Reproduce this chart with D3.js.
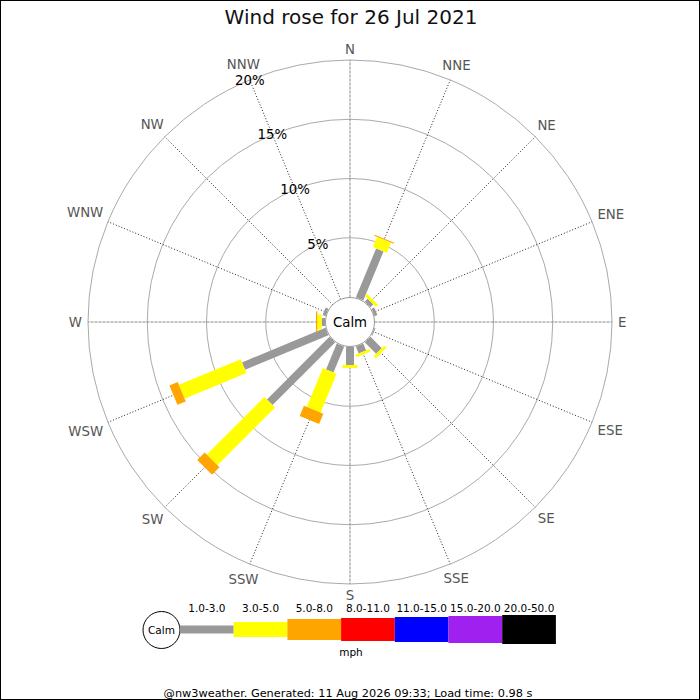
<!DOCTYPE html>
<html>
<head>
<meta charset="utf-8">
<script src="https://cdn.jsdelivr.net/npm/d3@7"></script>
<style>
  html, body { margin: 0; padding: 0; background: #fff; }
  svg { display: block; font-family: "DejaVu Sans", sans-serif; }
</style>
</head>
<body>
<svg id="chart" width="700" height="700"></svg>
<script>
// ---- data ----
const titleText = "Wind rose for 26 Jul 2021";
const footerText = "@nw3weather. Generated: 11 Aug 2026 09:33; Load time: 0.98 s";
const directions = ["N","NNE","NE","ENE","E","ESE","SE","SSE","S","SSW","SW","WSW","W","WNW","NW","NNW"];
const speedBins = ["1.0-3.0","3.0-5.0","5.0-8.0","8.0-11.0","11.0-15.0","15.0-20.0","20.0-50.0"];
const binColors = ["#999999","#ffff00","#ffa500","#ff0000","#0000ff","#a020f0","#000000"];
const unitLabel = "mph";
const calmLabel = "Calm";
const ringTicks = [5, 10, 15, 20];
// percentage of observations per direction, by speed bin
const pct1to3   = [0, 4.47, 0.34, 0.25, 0, 0.08, 1.35, 0.63, 1.52, 2.36, 7.47, 7.61, 0.28, 0.25, 0, 0];
const pct3to5   = [0, 0.93, 0.25, 0,    0, 0,    0.25, 0.21, 0.25, 3.55, 6.88, 5.65, 0.37, 0,    0, 0];
const pct5to8   = [0, 0.09, 0,    0,    0, 0,    0,    0,    0,    0.93, 0.89, 0.76, 0.11, 0,    0, 0];
const pct8to11  = [0, 0, 0, 0, 0, 0, 0, 0, 0, 0, 0, 0, 0, 0, 0, 0];
const pct11to15 = [0, 0, 0, 0, 0, 0, 0, 0, 0, 0, 0, 0, 0, 0, 0, 0];
const pct15to20 = [0, 0, 0, 0, 0, 0, 0, 0, 0, 0, 0, 0, 0, 0, 0, 0];
const pct20to50 = [0, 0, 0, 0, 0, 0, 0, 0, 0, 0, 0, 0, 0, 0, 0, 0];

// ---- build ----
const series = [pct1to3, pct3to5, pct5to8, pct8to11, pct11to15, pct15to20, pct20to50];
const table = directions.map((d, i) => {
  const row = { dir: d };
  speedBins.forEach((b, j) => row[b] = series[j][i]);
  return row;
});
const stacked = d3.stack().keys(speedBins)(table);

const svg = d3.select("#chart");
const W = 700, H = 700;
const cx = 350, cy = 322;
const calmR = 24.5;
const barWidths = [8, 15, 21, 23, 25, 27, 29];

svg.append("rect").attr("x", 0.5).attr("y", 0.5).attr("width", W - 1).attr("height", H - 1)
  .attr("fill", "#fff").attr("stroke", "#000").attr("stroke-width", 1);

svg.append("text").attr("x", 351).attr("y", 24).attr("text-anchor", "middle")
  .attr("font-size", 20).attr("fill", "#111").text(titleText);

const r = d3.scaleLinear().domain([0, 20]).range([25, 262]);
const angle = d3.scalePoint().domain(directions).range([0, 337.5]); // degrees clockwise from N

const g = svg.append("g").attr("transform", `translate(${cx},${cy})`);

// rings
g.selectAll("circle.ring").data(ringTicks).join("circle")
  .attr("class", "ring").attr("r", d => r(d))
  .attr("fill", "none").attr("stroke", "#aaa").attr("stroke-width", 1);

// spokes
directions.forEach((d, i) => {
  const a = angle(d) * Math.PI / 180;
  const cardinal = i % 4 === 0;
  g.append("line")
    .attr("x1", Math.sin(a) * calmR).attr("y1", -Math.cos(a) * calmR)
    .attr("x2", Math.sin(a) * r(20)).attr("y2", -Math.cos(a) * r(20))
    .attr("stroke", cardinal ? "#888" : "#222")
    .attr("stroke-width", 1)
    .attr("stroke-dasharray", cardinal ? "3,1" : "1,2");
});

// bars
stacked.forEach((layer, j) => {
  g.append("g").selectAll("rect").data(layer.filter(s => s[1] - s[0] > 0)).join("rect")
    .attr("x", -barWidths[j] / 2)
    .attr("y", s => -r(s[1]))
    .attr("width", barWidths[j])
    .attr("height", s => r(s[1]) - r(s[0]))
    .attr("fill", binColors[j])
    .attr("transform", s => `rotate(${angle(s.data.dir)})`);
});

// calm circle
g.append("circle").attr("r", calmR).attr("fill", "#fff").attr("stroke", "#999").attr("stroke-width", 1);
g.append("text").attr("y", 0).attr("dy", "0.36em").attr("text-anchor", "middle")
  .attr("font-size", 13.33).attr("fill", "#000").text(calmLabel);

// direction labels
directions.forEach((d) => {
  const a = angle(d) * Math.PI / 180;
  const t = g.append("text").attr("text-anchor", "middle").attr("font-size", 13.33)
    .attr("fill", "#555").text(d);
  const w = t.node().getComputedTextLength();
  const rr = 268 + Math.abs(Math.sin(a)) * w / 2 + Math.abs(Math.cos(a)) * 5;
  t.attr("x", Math.sin(a) * rr).attr("y", -Math.cos(a) * rr).attr("dy", "0.36em");
});

// percent labels along NNW
const la = angle("NNW") * Math.PI / 180;
g.selectAll("text.pct").data(ringTicks).join("text")
  .attr("class", "pct")
  .attr("x", d => Math.sin(la) * r(d)).attr("y", d => -Math.cos(la) * r(d))
  .attr("dy", "0.36em").attr("text-anchor", "middle")
  .attr("font-size", 13.33).attr("fill", "#000").text(d => d + "%");

// legend
const lx0 = 180, segW = 53.7, ly = 629.5;
const leg = svg.append("g");
leg.append("circle").attr("cx", 161.5).attr("cy", 630).attr("r", 18.5)
  .attr("fill", "#fff").attr("stroke", "#000").attr("stroke-width", 1);
leg.append("text").attr("x", 161.5).attr("y", 630).attr("dy", "0.36em").attr("text-anchor", "middle")
  .attr("font-size", 10.5).attr("fill", "#000").text(calmLabel);
speedBins.forEach((b, j) => {
  leg.append("rect").attr("x", lx0 + j * segW).attr("y", ly - barWidths[j] / 2)
    .attr("width", segW).attr("height", barWidths[j]).attr("fill", binColors[j]);
  leg.append("text").attr("x", lx0 + j * segW + segW / 2).attr("y", 612)
    .attr("text-anchor", "middle").attr("font-size", 10.5).attr("fill", "#000").text(b);
});
leg.append("text").attr("x", 351).attr("y", 656).attr("text-anchor", "middle")
  .attr("font-size", 10.5).attr("fill", "#000").text(unitLabel);

svg.append("text").attr("x", 348).attr("y", 697).attr("text-anchor", "middle")
  .attr("font-size", 11.3).attr("fill", "#000").text(footerText);
</script>
</body>
</html>
